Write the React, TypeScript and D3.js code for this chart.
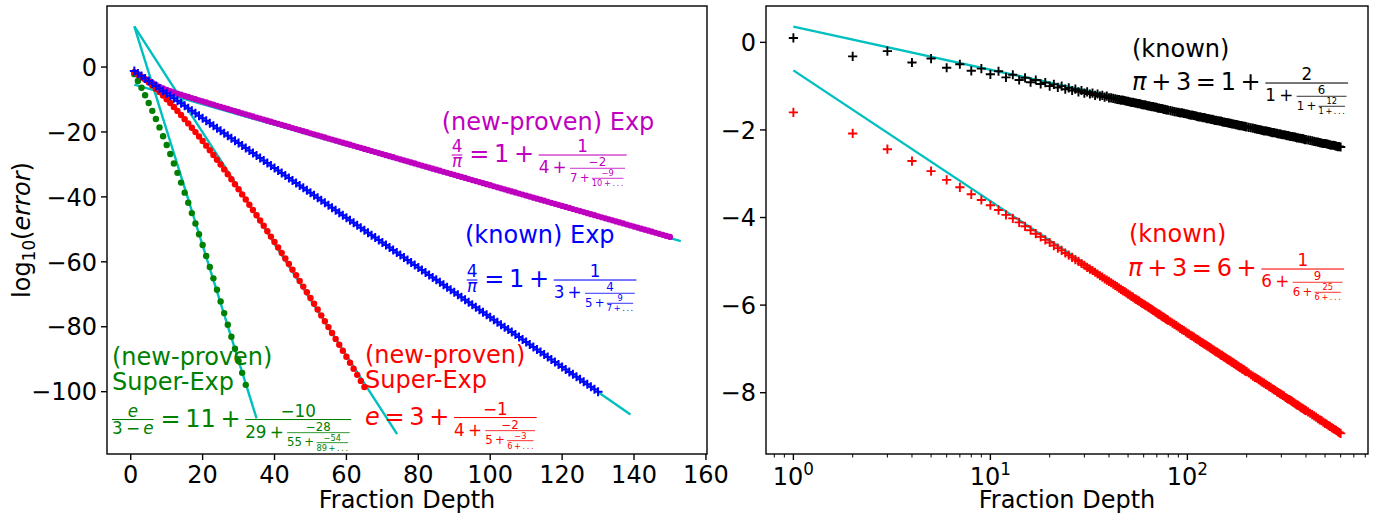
import React from 'react';
import * as d3 from 'd3';

// ---------------- DATA ----------------
// Left panel: log10(error) per fraction depth
const greenValues = [
  -2.2, -4.3, -6.4, -8.7, -11.1, -13.5, -16.0, -18.6, -21.3, -24.0,
  -26.8, -29.7, -32.6, -35.6, -38.7, -41.8, -45.0, -48.2, -51.5, -54.8,
  -58.2, -61.6, -65.1, -68.6, -72.2, -75.8, -79.4, -83.1, -86.8, -90.5,
  -94.2, -97.9,
];
const redValues = [
  -1.58, -2.23, -2.98, -3.81, -4.70, -5.66, -6.66, -7.71, -8.80, -9.93,
  -11.09, -12.29, -13.52, -14.77, -16.05, -17.36, -18.69, -20.04, -21.41, -22.80,
  -24.21, -25.64, -27.09, -28.56, -30.04, -31.53, -33.05, -34.57, -36.12, -37.67,
  -39.24, -40.82, -42.41, -44.02, -45.64, -47.27, -48.91, -50.56, -52.23, -53.90,
  -55.58, -57.28, -58.98, -60.69, -62.41, -64.14, -65.88, -67.63, -69.39, -71.16,
  -72.93, -74.71, -76.50, -78.30, -80.11, -81.92, -83.74, -85.57, -87.41, -89.25,
  -91.10, -92.95, -94.82, -96.69, -98.56,
];
const blueValues = [
  -1.22, -1.99, -2.75, -3.52, -4.28, -5.05, -5.82, -6.58, -7.35, -8.11,
  -8.88, -9.65, -10.41, -11.18, -11.94, -12.71, -13.48, -14.24, -15.01, -15.77,
  -16.54, -17.31, -18.07, -18.84, -19.60, -20.37, -21.14, -21.90, -22.67, -23.43,
  -24.20, -24.97, -25.73, -26.50, -27.26, -28.03, -28.80, -29.56, -30.33, -31.09,
  -31.86, -32.63, -33.39, -34.16, -34.92, -35.69, -36.46, -37.22, -37.99, -38.75,
  -39.52, -40.29, -41.05, -41.82, -42.58, -43.35, -44.12, -44.88, -45.65, -46.41,
  -47.18, -47.95, -48.71, -49.48, -50.24, -51.01, -51.78, -52.54, -53.31, -54.07,
  -54.84, -55.61, -56.37, -57.14, -57.90, -58.67, -59.44, -60.20, -60.97, -61.73,
  -62.50, -63.27, -64.03, -64.80, -65.56, -66.33, -67.10, -67.86, -68.63, -69.39,
  -70.16, -70.93, -71.69, -72.46, -73.22, -73.99, -74.76, -75.52, -76.29, -77.05,
  -77.82, -78.59, -79.35, -80.12, -80.88, -81.65, -82.42, -83.18, -83.95, -84.71,
  -85.48, -86.25, -87.01, -87.78, -88.54, -89.31, -90.08, -90.84, -91.61, -92.37,
  -93.14, -93.91, -94.67, -95.44, -96.20, -96.97, -97.74, -98.50, -99.27, -100.03,
];
const purpleValues = [
  -1.6, -2.4, -3.1, -3.7, -4.3, -4.9, -5.5, -6.1, -6.6, -7.0,
  -7.42, -7.79, -8.15, -8.51, -8.86, -9.21, -9.55, -9.89, -10.23, -10.57,
  -10.91, -11.25, -11.58, -11.92, -12.25, -12.58, -12.91, -13.24, -13.57, -13.90,
  -14.23, -14.56, -14.88, -15.21, -15.54, -15.86, -16.19, -16.51, -16.84, -17.16,
  -17.49, -17.81, -18.13, -18.46, -18.78, -19.10, -19.43, -19.75, -20.07, -20.40,
  -20.72, -21.04, -21.36, -21.68, -22.01, -22.33, -22.65, -22.97, -23.29, -23.61,
  -23.93, -24.25, -24.58, -24.90, -25.22, -25.54, -25.86, -26.18, -26.50, -26.82,
  -27.14, -27.46, -27.78, -28.10, -28.42, -28.74, -29.06, -29.38, -29.70, -30.02,
  -30.34, -30.66, -30.98, -31.30, -31.62, -31.94, -32.25, -32.57, -32.89, -33.21,
  -33.53, -33.85, -34.17, -34.49, -34.81, -35.13, -35.45, -35.77, -36.08, -36.40,
  -36.72, -37.04, -37.36, -37.68, -38.00, -38.32, -38.63, -38.95, -39.27, -39.59,
  -39.91, -40.23, -40.55, -40.87, -41.18, -41.50, -41.82, -42.14, -42.46, -42.78,
  -43.09, -43.41, -43.73, -44.05, -44.37, -44.69, -45.01, -45.32, -45.64, -45.96,
  -46.28, -46.60, -46.91, -47.23, -47.55, -47.87, -48.19, -48.51, -48.82, -49.14,
  -49.46, -49.78, -50.10, -50.41, -50.73, -51.05, -51.37, -51.69, -52.01, -52.32,
];
// Left panel fitted lines: [depth, log10 error] end points
const fitPurple = [[1, -5.4], [153, -53.6]];
const fitBlue = [[1, -1.2], [139, -107.0]];
const fitRed = [[1, 12.5], [74.1, -113.1]];
const fitGreen = [[1, 12.5], [35, -108.2]];

// Right panel (log-x): depths and log10 error
const rightDepths = [
  ...d3.range(1, 81),
  ...d3.range(82, 201, 2),
  ...d3.range(205, 401, 5),
  ...d3.range(410, 601, 10),
];
const blackValues = [
  0.10, -0.32, -0.20, -0.46, -0.37, -0.58, -0.50, -0.65, -0.60, -0.73,
  -0.66, -0.80, -0.74, -0.86, -0.81, -0.91, -0.86, -0.95, -0.92, -1.00,
  -0.96, -1.03, -1.00, -1.07, -1.04, -1.10, -1.07, -1.13, -1.10, -1.16,
  -1.13, -1.18, -1.16, -1.21, -1.18, -1.23, -1.21, -1.25, -1.23, -1.27,
  -1.27, -1.28, -1.29, -1.30, -1.31, -1.32, -1.32, -1.33, -1.34, -1.35,
  -1.36, -1.37, -1.37, -1.38, -1.39, -1.40, -1.40, -1.41, -1.42, -1.43,
  -1.43, -1.44, -1.45, -1.45, -1.46, -1.47, -1.47, -1.48, -1.48, -1.49,
  -1.50, -1.50, -1.51, -1.51, -1.52, -1.53, -1.53, -1.54, -1.54, -1.55,
  -1.56, -1.57, -1.58, -1.59, -1.60, -1.61, -1.61, -1.62, -1.63, -1.64,
  -1.65, -1.66, -1.66, -1.67, -1.68, -1.69, -1.70, -1.70, -1.71, -1.72,
  -1.72, -1.73, -1.74, -1.74, -1.75, -1.76, -1.76, -1.77, -1.78, -1.78,
  -1.79, -1.79, -1.80, -1.80, -1.81, -1.82, -1.82, -1.83, -1.83, -1.84,
  -1.84, -1.85, -1.85, -1.86, -1.86, -1.87, -1.87, -1.88, -1.88, -1.89,
  -1.89, -1.90, -1.90, -1.90, -1.91, -1.91, -1.92, -1.92, -1.93, -1.93,
  -1.94, -1.95, -1.96, -1.97, -1.98, -1.99, -2.00, -2.01, -2.02, -2.02,
  -2.03, -2.04, -2.05, -2.06, -2.06, -2.07, -2.08, -2.09, -2.09, -2.10,
  -2.11, -2.11, -2.12, -2.13, -2.13, -2.14, -2.15, -2.15, -2.16, -2.16,
  -2.17, -2.18, -2.18, -2.19, -2.19, -2.20, -2.20, -2.21, -2.22, -2.22,
  -2.23, -2.24, -2.25, -2.26, -2.27, -2.28, -2.29, -2.30, -2.31, -2.31,
  -2.32, -2.33, -2.34, -2.35, -2.35, -2.36, -2.37, -2.38, -2.38, -2.39,
];
const redRightValues = [
  -1.60, -2.08, -2.44, -2.71, -2.94, -3.14, -3.31, -3.47, -3.60, -3.72,
  -3.83, -3.94, -4.02, -4.11, -4.20, -4.29, -4.37, -4.44, -4.51, -4.57,
  -4.64, -4.70, -4.75, -4.81, -4.86, -4.91, -4.96, -5.00, -5.05, -5.09,
  -5.14, -5.18, -5.21, -5.25, -5.29, -5.33, -5.36, -5.40, -5.43, -5.46,
  -5.49, -5.52, -5.55, -5.58, -5.61, -5.64, -5.67, -5.69, -5.72, -5.75,
  -5.77, -5.80, -5.82, -5.85, -5.87, -5.89, -5.91, -5.94, -5.96, -5.98,
  -6.00, -6.02, -6.04, -6.06, -6.08, -6.10, -6.12, -6.14, -6.16, -6.18,
  -6.20, -6.21, -6.23, -6.25, -6.27, -6.28, -6.30, -6.32, -6.33, -6.35,
  -6.38, -6.41, -6.44, -6.47, -6.50, -6.53, -6.56, -6.58, -6.61, -6.64,
  -6.66, -6.69, -6.71, -6.73, -6.76, -6.78, -6.80, -6.83, -6.85, -6.87,
  -6.89, -6.91, -6.93, -6.95, -6.97, -6.99, -7.01, -7.03, -7.05, -7.07,
  -7.08, -7.10, -7.12, -7.14, -7.15, -7.17, -7.19, -7.20, -7.22, -7.24,
  -7.25, -7.27, -7.28, -7.30, -7.31, -7.33, -7.34, -7.36, -7.37, -7.39,
  -7.40, -7.42, -7.43, -7.44, -7.46, -7.47, -7.48, -7.50, -7.51, -7.52,
  -7.55, -7.59, -7.62, -7.65, -7.67, -7.70, -7.73, -7.76, -7.78, -7.81,
  -7.83, -7.86, -7.88, -7.91, -7.93, -7.95, -7.98, -8.00, -8.02, -8.04,
  -8.06, -8.08, -8.11, -8.13, -8.15, -8.16, -8.18, -8.20, -8.22, -8.24,
  -8.26, -8.28, -8.29, -8.31, -8.33, -8.35, -8.36, -8.38, -8.40, -8.41,
  -8.44, -8.47, -8.50, -8.53, -8.56, -8.59, -8.62, -8.64, -8.67, -8.70,
  -8.72, -8.75, -8.77, -8.80, -8.82, -8.84, -8.86, -8.89, -8.91, -8.93,
];
const fitBlackRight = [[1, 0.36], [600, -2.37]];
const fitRedRight = [[1, -0.64], [600, -8.93]];

// Ticks
const leftXTicks = [0, 20, 40, 60, 80, 100, 120, 140, 160];
const leftYTicks = [0, -20, -40, -60, -80, -100];
const rightXTicks = [1, 10, 100];
const rightXTickExp = ['0', '1', '2'];
const rightYTicks = [0, -2, -4, -6, -8];

// ---------------- STYLE / LAYOUT ----------------
const FONT = 'DejaVu Sans';
const FS = 24;
const C = {
  green: '#008000', red: '#ff0000', blue: '#0000ff', mag: '#bf00bf', cyan: '#00bfbf', black: '#000000',
};

// ---------------- Mathtext-like layout ----------------
type MNode =
  | { k: 'txt'; s: string; it?: boolean }
  | { k: 'op'; s: string }
  | { k: 'dots' }
  | { k: 'frac'; n: MNode[]; d: MNode[] };
const T = (s: string, it = false): MNode => ({ k: 'txt', s, it });
const O = (s: string): MNode => ({ k: 'op', s });
const D: MNode = { k: 'dots' };
const F = (n: MNode[], d: MNode[]): MNode => ({ k: 'frac', n, d });

let _ctx: CanvasRenderingContext2D | null = null;
function measure(s: string, size: number, it = false) {
  if (!_ctx) _ctx = document.createElement('canvas').getContext('2d');
  if (!_ctx) return s.length * size * 0.6;
  _ctx.font = `${it ? 'italic ' : ''}${size}px "${FONT}"`;
  return _ctx.measureText(s).width;
}
function charAsc(ch: string) {
  if ('0123456789'.includes(ch)) return 0.729;
  if (ch === '+') return 0.627;
  if (ch === 'π' || ch === 'e') return 0.56;
  if (ch === '−') return 0.44;
  if (ch === '.') return 0.11;
  return 0.73;
}
type Box = { w: number; asc: number; desc: number; render: (x: number, y: number, color: string, out: any[]) => void };

function layoutNode(n: MNode, size: number): Box {
  if (n.k === 'txt') {
    const w = measure(n.s, size, n.it);
    let asc = 0;
    for (const ch of n.s) asc = Math.max(asc, charAsc(ch));
    const desc = n.s.includes('e') ? 0.02 * size : 0;
    return {
      w, asc: asc * size, desc,
      render: (x, y, color, out) => out.push(
        <text key={out.length} x={x} y={y} fontSize={size} fontStyle={n.it ? 'italic' : 'normal'} fill={color}>{n.s}</text>
      ),
    };
  }
  if (n.k === 'op') {
    const sp = 0.2 * measure('m', size, true);
    const cw = measure(n.s, size);
    return {
      w: cw + 2 * sp, asc: 0.627 * size, desc: 0,
      render: (x, y, color, out) => out.push(
        <text key={out.length} x={x + sp} y={y} fontSize={size} fill={color}>{n.s}</text>
      ),
    };
  }
  if (n.k === 'dots') {
    const sp = 0.2 * measure('m', size, true);
    const dw = measure('.', size);
    return {
      w: 3 * dw + 2 * sp, asc: 0.11 * size, desc: 0,
      render: (x, y, color, out) => {
        for (let i = 0; i < 3; i++) out.push(
          <text key={out.length} x={x + i * (dw + sp)} y={y} fontSize={size} fill={color}>.</text>
        );
      },
    };
  }
  // fraction
  const cs = size * 0.7;
  const th = Math.max(size * 0.0439, 0.8);
  const num = layoutRow(n.n, cs);
  const den = layoutRow(n.d, cs);
  const W = Math.max(num.w, den.w);
  const eqC = 0.313 * size;
  const numBase = eqC + 2 * th + num.desc;
  const denBase = eqC - 3 * th - den.asc;
  return {
    w: W + 2 * th,
    asc: numBase + num.asc,
    desc: -(denBase - den.desc),
    render: (x, y, color, out) => {
      num.render(x + (W - num.w) / 2, y - numBase, color, out);
      den.render(x + (W - den.w) / 2, y - denBase, color, out);
      out.push(<rect key={out.length} x={x} y={y - eqC} width={W} height={th} fill={color} />);
    },
  };
}
function layoutRow(nodes: MNode[], size: number): Box {
  const parts = nodes.map((n) => layoutNode(n, size));
  let w = 0, asc = 0, desc = 0;
  parts.forEach((p) => { w += p.w; asc = Math.max(asc, p.asc); desc = Math.max(desc, p.desc); });
  return {
    w, asc, desc,
    render: (x, y, color, out) => {
      let cx = x;
      parts.forEach((p) => { p.render(cx, y, color, out); cx += p.w; });
    },
  };
}
function Formula({ nodes, x, y, color }: { nodes: MNode[]; x: number; y: number; color: string }) {
  const box = layoutRow(nodes, FS);
  const out: any[] = [];
  box.render(x, y, color, out);
  return <g>{out}</g>;
}

const fMag = [F([T('4')], [T('π', true)]), O('='), T('1'), O('+'),
  F([T('1')], [T('4'), O('+'), F([T('−2')], [T('7'), O('+'), F([T('−9')], [T('10'), O('+'), D])])])];
const fBlue = [F([T('4')], [T('π', true)]), O('='), T('1'), O('+'),
  F([T('1')], [T('3'), O('+'), F([T('4')], [T('5'), O('+'), F([T('9')], [T('7'), O('+'), D])])])];
const fGreen = [F([T('e', true)], [T('3'), O('−'), T('e', true)]), O('='), T('11'), O('+'),
  F([T('−10')], [T('29'), O('+'), F([T('−28')], [T('55'), O('+'), F([T('−54')], [T('89'), O('+'), D])])])];
const fRed = [T('e', true), O('='), T('3'), O('+'),
  F([T('−1')], [T('4'), O('+'), F([T('−2')], [T('5'), O('+'), F([T('−3')], [T('6'), O('+'), D])])])];
const fBlackR = [T('π', true), O('+'), T('3'), O('='), T('1'), O('+'),
  F([T('2')], [T('1'), O('+'), F([T('6')], [T('1'), O('+'), F([T('12')], [T('1'), O('+'), D])])])];
const fRedR = [T('π', true), O('+'), T('3'), O('='), T('6'), O('+'),
  F([T('1')], [T('6'), O('+'), F([T('9')], [T('6'), O('+'), F([T('25')], [T('6'), O('+'), D])])])];

const minus = (v: number) => (v < 0 ? '−' + Math.abs(v) : String(v));
const plusPath = (pts: [number, number][], h: number) =>
  pts.map(([x, y]) => `M${x - h},${y}H${x + h}M${x},${y - h}V${y + h}`).join('');

export default function App() {
  const L = { x0: 107, x1: 707, y0: 6, y1: 454 };
  const R = { x0: 766, x1: 1368, y0: 6, y1: 454 };
  const xL = d3.scaleLinear().domain([-6.6, 160.3]).range([L.x0, L.x1]);
  const yL = d3.scaleLinear().domain([-119.2, 18.8]).range([L.y1, L.y0]);
  const xR = d3.scaleLog().domain([0.7261, 826]).range([R.x0, R.x1]);
  const yR = d3.scaleLinear().domain([-9.40, 0.83]).range([R.y1, R.y0]);

  const lineL = d3.line<number[]>().x((d) => xL(d[0])).y((d) => yL(d[1]));
  const lineR = d3.line<number[]>().x((d) => xR(d[0])).y((d) => yR(d[1]));

  const TL = 6; // tick length
  const SW = 1.4; // spine width

  const minorR: number[] = [];
  [0.1, 1, 10, 100].forEach((dec) => {
    for (let m = 2; m <= 9; m++) {
      const v = dec * m;
      if (v >= 0.7261 && v <= 826) minorR.push(v);
    }
  });

  const bluePts = blueValues.map((v, i) => [xL(i + 1), yL(v)] as [number, number]);
  const blackPts = blackValues.map((v, i) => [xR(rightDepths[i]), yR(v)] as [number, number]);
  const redRPts = redRightValues.map((v, i) => [xR(rightDepths[i]), yR(v)] as [number, number]);

  return (
    <svg width={1376} height={521} style={{ position: 'absolute', left: 0, top: 0, background: '#fff' }}
      fontFamily={FONT}>
      <rect x={0} y={0} width={1376} height={521} fill="#fff" />
      <defs>
        <clipPath id="clipL"><rect x={L.x0} y={L.y0} width={L.x1 - L.x0} height={L.y1 - L.y0} /></clipPath>
        <clipPath id="clipR"><rect x={R.x0} y={R.y0} width={R.x1 - R.x0} height={R.y1 - R.y0} /></clipPath>
      </defs>

      {/* ---------- LEFT PANEL ---------- */}
      <g clipPath="url(#clipL)">
        {[fitPurple, fitBlue, fitRed, fitGreen].map((f, i) => (
          <path key={i} d={lineL(f) || ''} stroke={C.cyan} strokeWidth={2.4} fill="none" />
        ))}
        {purpleValues.map((v, i) => <circle key={'p' + i} cx={xL(i + 1)} cy={yL(v)} r={3.1} fill={C.mag} />)}
        {greenValues.map((v, i) => <circle key={'g' + i} cx={xL(i + 1)} cy={yL(v)} r={3.2} fill={C.green} />)}
        {redValues.map((v, i) => <circle key={'r' + i} cx={xL(i + 1)} cy={yL(v)} r={3.2} fill={C.red} />)}
        <path d={plusPath(bluePts, 4.5)} stroke={C.blue} strokeWidth={2} fill="none" />
      </g>
      {/* texts left */}
      <text x={441.7} y={130} fontSize={FS} fill={C.mag}>(new-proven) Exp</text>
      <Formula nodes={fMag} x={451.7} y={162} color={C.mag} />
      <text x={465} y={243} fontSize={FS} fill={C.blue}>(known) Exp</text>
      <Formula nodes={fBlue} x={466.7} y={287} color={C.blue} />
      <text x={112} y={365} fontSize={FS} fill={C.green}>(new-proven)</text>
      <text x={112} y={390} fontSize={FS} fill={C.green}>Super-Exp</text>
      <Formula nodes={fGreen} x={112} y={426.5} color={C.green} />
      <text x={365} y={363} fontSize={FS} fill={C.red}>(new-proven)</text>
      <text x={365} y={388} fontSize={FS} fill={C.red}>Super-Exp</text>
      <Formula nodes={fRed} x={365} y={424.5} color={C.red} />

      {/* left axes */}
      <rect x={L.x0} y={L.y0} width={L.x1 - L.x0} height={L.y1 - L.y0} fill="none" stroke="#000" strokeWidth={SW} />
      {leftXTicks.map((t) => (
        <g key={'lx' + t}>
          <line x1={xL(t)} x2={xL(t)} y1={L.y1} y2={L.y1 + TL} stroke="#000" strokeWidth={SW} />
          <text x={xL(t)} y={483} fontSize={FS} textAnchor="middle">{minus(t)}</text>
        </g>
      ))}
      {leftYTicks.map((t) => (
        <g key={'ly' + t}>
          <line x1={L.x0 - TL} x2={L.x0} y1={yL(t)} y2={yL(t)} stroke="#000" strokeWidth={SW} />
          <text x={L.x0 - TL - 4} y={yL(t) + 8.7} fontSize={FS} textAnchor="end">{minus(t)}</text>
        </g>
      ))}
      <text x={(L.x0 + L.x1) / 2} y={508} fontSize={FS} textAnchor="middle">Fraction Depth</text>
      <text transform={`translate(30,${(L.y0 + L.y1) / 2}) rotate(-90)`} fontSize={FS} textAnchor="middle">
        log<tspan fontSize={FS * 0.7} dy={5}>10</tspan><tspan dy={-5}>(</tspan><tspan fontStyle="italic">error</tspan>)
      </text>

      {/* ---------- RIGHT PANEL ---------- */}
      <g clipPath="url(#clipR)">
        {[fitBlackRight, fitRedRight].map((f, i) => (
          <path key={i} d={lineR(f) || ''} stroke={C.cyan} strokeWidth={2.4} fill="none" />
        ))}
        <path d={plusPath(blackPts, 4.6)} stroke={C.black} strokeWidth={1.9} fill="none" />
        <path d={plusPath(redRPts, 4.6)} stroke={C.red} strokeWidth={1.9} fill="none" />
      </g>
      <text x={1132} y={57} fontSize={FS} fill={C.black}>(known)</text>
      <Formula nodes={fBlackR} x={1132} y={90} color={C.black} />
      <text x={1129} y={242} fontSize={FS} fill={C.red}>(known)</text>
      <Formula nodes={fRedR} x={1128} y={276} color={C.red} />

      <rect x={R.x0} y={R.y0} width={R.x1 - R.x0} height={R.y1 - R.y0} fill="none" stroke="#000" strokeWidth={SW} />
      {rightXTicks.map((t, i) => (
        <g key={'rx' + t}>
          <line x1={xR(t)} x2={xR(t)} y1={R.y1} y2={R.y1 + TL} stroke="#000" strokeWidth={SW} />
          <text x={xR(t)} y={485} fontSize={FS} textAnchor="middle">
            10<tspan fontSize={FS * 0.7} dy={-10}>{rightXTickExp[i]}</tspan>
          </text>
        </g>
      ))}
      {minorR.map((t) => (
        <line key={'rm' + t} x1={xR(t)} x2={xR(t)} y1={R.y1} y2={R.y1 + 3.5} stroke="#000" strokeWidth={1} />
      ))}
      {rightYTicks.map((t) => (
        <g key={'ry' + t}>
          <line x1={R.x0 - TL} x2={R.x0} y1={yR(t)} y2={yR(t)} stroke="#000" strokeWidth={SW} />
          <text x={R.x0 - TL - 4} y={yR(t) + 8.7} fontSize={FS} textAnchor="end">{minus(t)}</text>
        </g>
      ))}
      <text x={(R.x0 + R.x1) / 2} y={508} fontSize={FS} textAnchor="middle">Fraction Depth</text>
    </svg>
  );
}
